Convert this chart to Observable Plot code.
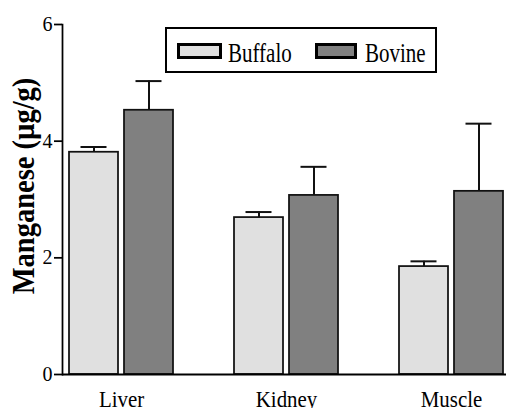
<!DOCTYPE html>
<html><head><meta charset="utf-8">
<script src="https://cdn.jsdelivr.net/npm/d3@7"></script>
<script src="https://cdn.jsdelivr.net/npm/@observablehq/plot@0.6"></script>
<style>
body{margin:0;background:#fff}
#wrap{position:relative;width:506px;height:408px;overflow:hidden;background:#fff}
#overlay{position:absolute;left:0;top:0;pointer-events:none}
</style></head><body><div id="wrap"></div>
<script>
// ---- data ----
const organs = ["Liver", "Kidney", "Muscle"];
const species = ["Buffalo", "Bovine"];
const buffaloMean = [3.81, 2.69, 1.85];
const buffaloSEM = [0.09, 0.095, 0.09];
const bovineMean = [4.53, 3.07, 3.14];
const bovineSEM = [0.50, 0.49, 1.16];
const yTicks = [0, 2, 4, 6];
const yLabel = "Manganese (µg/g)";
const fills = ["#e0e0e0", "#808080"];

const means = [buffaloMean, bovineMean];
const sems = [buffaloSEM, bovineSEM];
const rows = species.map((s, k) => organs.map((o, i) => ({
  organ: o, species: s, mean: means[k][i], upper: means[k][i] + sems[k][i]
})));

const serif = "'Liberation Serif', 'Times New Roman', serif";

const marks = [];
species.forEach((s, k) => {
  const data = rows[k];
  const off = k ? 27.5 : -27.5;
  marks.push(
    Plot.ruleX(data, {x: "organ", y1: "mean", y2: "upper", dx: off, stroke: "#111", strokeWidth: 2}),
    Plot.tickY(data, {x: "organ", y: "upper", insetLeft: k ? 66.5 : 11.5, insetRight: k ? 11.5 : 66.5, stroke: "#111", strokeWidth: 2}),
    Plot.barY(data, {x: "organ", y: "mean", fill: fills[k], stroke: "#111", strokeWidth: 1.75,
      insetLeft: k ? 55 : 0, insetRight: k ? 0 : 55})
  );
});

const plot = Plot.plot({
  width: 506, height: 408,
  marginLeft: 62, marginRight: 0, marginTop: 24, marginBottom: 34,
  style: {fontFamily: serif, fontSize: "20px", color: "#000", background: "#fff"},
  x: {domain: organs, paddingInner: 0.3725, paddingOuter: 0.0256, align: 0.67},
  y: {domain: [0, 6]},
  marks: [
    ...marks,
    Plot.axisY({ticks: yTicks, tickSize: 8, tickPadding: 2, label: null, strokeWidth: 1.75,
      fontSize: 20, fill: "#000", tickFormat: d3.format("d")}),
    Plot.axisX({tickSize: 0, tickPadding: 15, label: null, fontSize: 24, fill: "#000"}),
    Plot.ruleY([0], {strokeWidth: 2}),
    Plot.frame({anchor: "left", strokeWidth: 1.75})
  ]
});

const wrap = document.getElementById("wrap");
wrap.appendChild(plot);

function squeeze(el, sx, sy) {
  const b = el.getBBox();
  const cx = b.x + b.width / 2, cy = b.y + b.height / 2;
  const t = el.getAttribute("transform") || "";
  el.setAttribute("transform", `${t} translate(${cx},${cy}) scale(${sx},${sy}) translate(${-cx},${-cy})`);
}
d3.select(plot).selectAll('g[aria-label="x-axis tick label"] text').each(function() { squeeze(this, 0.87, 1); });

// ---- overlay: legend + y label ----
const ov = d3.select(wrap).append("svg").attr("id", "overlay")
  .attr("width", 506).attr("height", 408)
  .style("font-family", serif);

ov.append("text")
  .attr("transform", "translate(34,186) rotate(-90) scale(0.92,1)")
  .attr("text-anchor", "middle")
  .attr("font-weight", "bold")
  .attr("font-size", 31)
  .text(yLabel);

const lg = ov.append("g");
lg.append("rect").attr("x", 166).attr("y", 28).attr("width", 270).attr("height", 44)
  .attr("fill", "#fff").attr("stroke", "#000").attr("stroke-width", 2);
const items = [{x: 178.5, w: 42, tx: 228}, {x: 316.5, w: 39, tx: 365}];
species.forEach((s, k) => {
  const it = items[k];
  lg.append("rect").attr("x", it.x + 1.5).attr("y", 46).attr("width", it.w).attr("height", 13)
    .attr("fill", "#bbb");
  lg.append("rect").attr("x", it.x).attr("y", 44.5).attr("width", it.w).attr("height", 13)
    .attr("fill", fills[k]).attr("stroke", "#000").attr("stroke-width", 3);
  lg.append("text").attr("transform", `translate(${it.tx},62) scale(0.75,1)`)
    .attr("font-size", 28).attr("fill", "#000").text(s);
});
</script></body></html>
